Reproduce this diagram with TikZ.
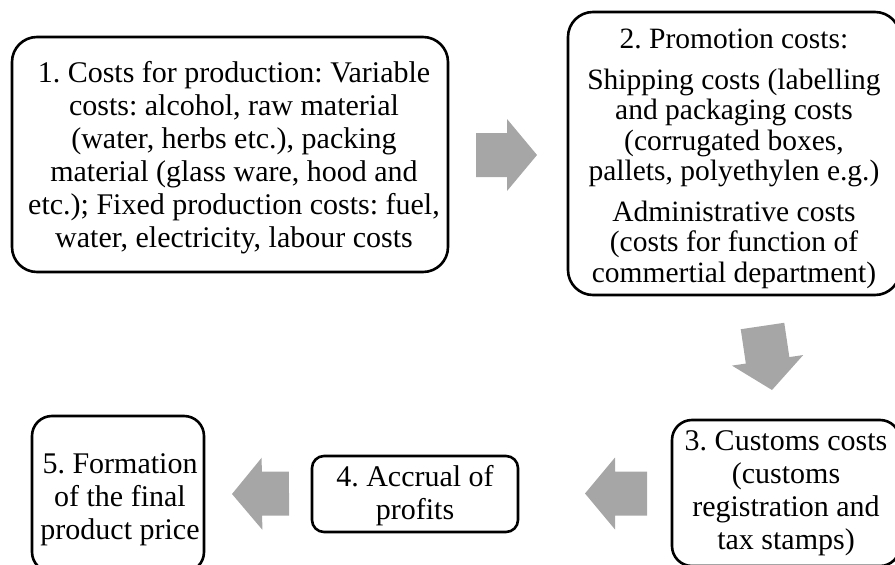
\documentclass[tikz,border=0pt]{standalone}
\usepackage{fontspec}
\setmainfont{Liberation Serif}
\usetikzlibrary{calc}
\definecolor{blockgray}{HTML}{A6A6A6}
\tikzset{
  box/.style={draw=black, line width=2.6pt, rectangle, rounded corners=#1,
    align=center, inner sep=0pt, font=\fontsize{30}{33}\selectfont\frenchspacing},
  box/.default=22pt,
  blockfill/.style={fill=blockgray}
}
\newcommand{\blockarrow}[2]{%
  \coordinate (bah) at ($(#2)!30pt!(#1)$);
  \fill[blockfill] ($(#1)!22pt!90:(#2)$) -- ($(bah)!22pt!90:(#2)$) -- ($(bah)!36pt!90:(#2)$) -- (#2)
    -- ($(bah)!36pt!-90:(#2)$) -- ($(bah)!22pt!-90:(#2)$) -- ($(#1)!22pt!-90:(#2)$) -- cycle;
}
\newcommand{\shiftedtext}[3]{\raisebox{-#2}[\height][\depth]{\begin{tabular}{@{\hspace{#1}}c@{}}#3\end{tabular}}}
\begin{document}
\begin{tikzpicture}[x=1pt,y=-1pt]
\useasboundingbox (0,0) rectangle (895,565);
\clip (0,0) rectangle (895,565);
\node[box=25pt, minimum width=436pt, minimum height=235pt] (b1) at (230,154.5)
  {\shiftedtext{8pt}{4pt}{1. Costs for production: Variable\\ costs: alcohol, raw material\\ (water, herbs etc.), packing\\ material (glass ware, hood and\\ etc.); Fixed production costs: fuel,\\ water, electricity, labour costs}};
\node[box=25pt, minimum width=332pt, minimum height=283pt, font=\fontsize{29.5}{30.5}\selectfont\frenchspacing] (b2) at (734,153.5)
  {\shiftedtext{0pt}{6pt}{2. Promotion costs:\\[10pt] Shipping costs (labelling\\ and packaging costs\\ (corrugated boxes,\\ pallets, polyethylen e.g.)\\[10pt] Administrative costs\\ (costs for function of\\ commertial department)}};
\node[box=20pt, minimum width=228pt, minimum height=146pt] (b3) at (786,493)
  {3. Customs costs\\ (customs\\ registration and\\ tax stamps)};
\node[box=12pt, minimum width=206pt, minimum height=76pt] (b4) at (415,494)
  {\shiftedtext{0pt}{2pt}{4. Accrual of\\ profits}};
\node[box=20pt, minimum width=172pt, minimum height=156pt] (b5) at (118,494)
  {\shiftedtext{4pt}{6pt}{5. Formation\\ of the final\\ product price}};
\coordinate (a1s) at (476,155);
\coordinate (a1e) at (537,155);
\coordinate (a2s) at (762.5,326);
\coordinate (a2e) at (772,390);
\coordinate (a3s) at (647,493.5);
\coordinate (a3e) at (585,493.5);
\coordinate (a4s) at (289,493.5);
\coordinate (a4e) at (232,494);
\blockarrow{a1s}{a1e}
\blockarrow{a2s}{a2e}
\blockarrow{a3s}{a3e}
\blockarrow{a4s}{a4e}
\end{tikzpicture}
\end{document}
